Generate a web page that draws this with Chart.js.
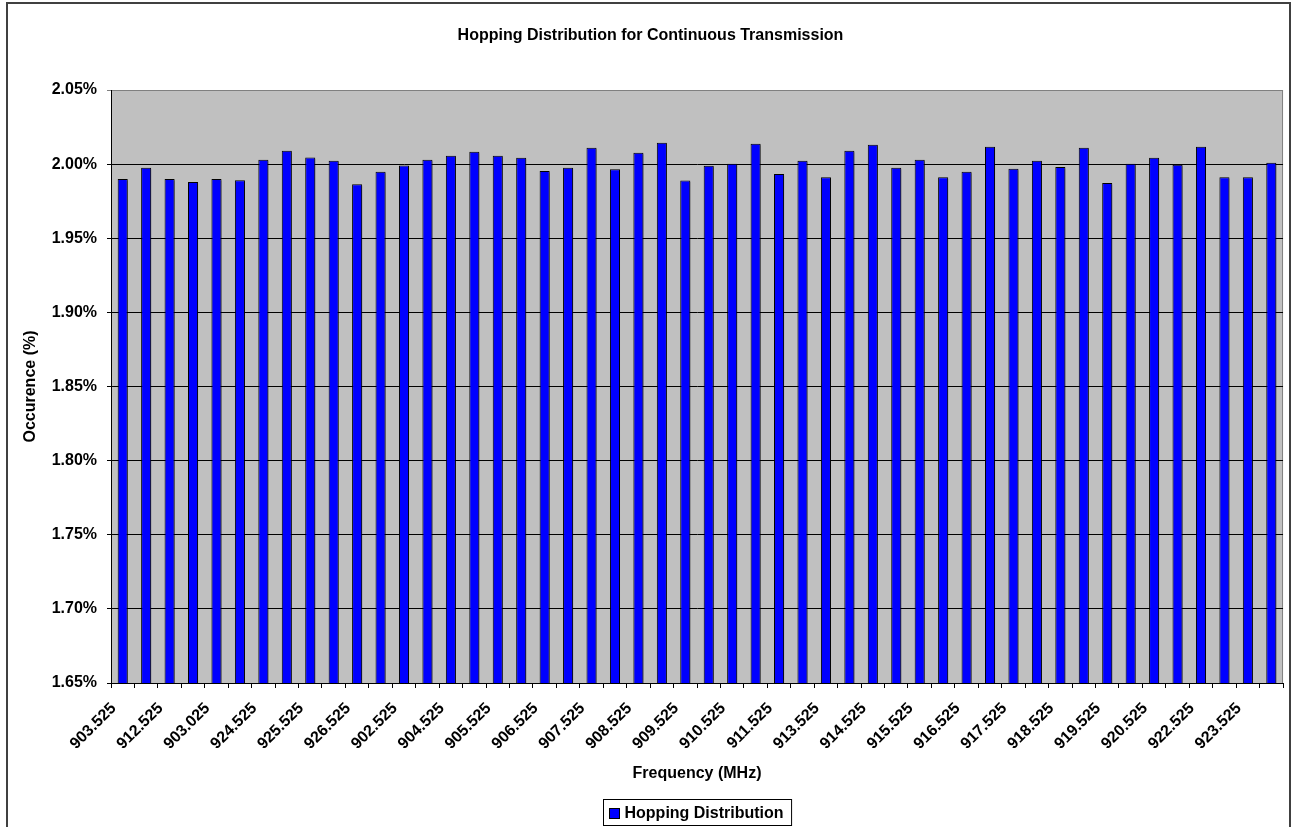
<!DOCTYPE html>
<html>
<head>
<meta charset="utf-8">
<title>Hopping Distribution</title>
<script src="https://cdn.jsdelivr.net/npm/chart.js@4.4.1/dist/chart.umd.min.js"></script>
<style>
    body { margin: 0; background: #fff; }
    canvas { display: block; }
</style>
</head>
<body>
<canvas id="myChart" width="1296" height="827"></canvas>
<script>
const frecuencias = [
    '903.525', '912.025', '912.525', '921.025', '903.025', '924.025', '924.525', '925.025', '925.525', '926.025',
    '926.525', '921.525', '902.525', '904.025', '904.525', '905.025', '905.525', '906.025', '906.525', '907.025',
    '907.525', '908.025', '908.525', '909.025', '909.525', '910.025', '910.525', '911.025', '911.525', '913.025',
    '913.525', '914.025', '914.525', '915.025', '915.525', '916.025', '916.525', '917.025', '917.525', '918.025',
    '918.525', '919.025', '919.525', '920.025', '920.525', '922.025', '922.525', '923.025', '923.525', '927.025'
];

// ocurrencia en %
const ocurrencia = [
    1.9900, 1.9976, 1.9900, 1.9879, 1.9900, 1.9892, 2.0030, 2.0090, 2.0045, 2.0023,
    1.9865, 1.9949, 1.9991, 2.0030, 2.0056, 2.0083, 2.0056, 2.0043, 1.9953, 1.9975,
    2.0110, 1.9966, 2.0076, 2.0144, 1.9890, 1.9989, 2.0002, 2.0137, 1.9933, 2.0022,
    1.9912, 2.0090, 2.0130, 1.9975, 2.0029, 1.9912, 1.9948, 2.0117, 1.9969, 2.0022,
    1.9980, 2.0110, 1.9872, 2.0002, 2.0043, 1.9996, 2.0117, 1.9912, 1.9912, 2.0009
];

const yMin = 1.65;
const yMax = 2.05;
const yPaso = 0.05;

const fuente = 'Arial, "Liberation Sans", sans-serif';
Chart.defaults.font.family = fuente;
Chart.defaults.font.size = 16;
Chart.defaults.font.weight = 'bold';
Chart.defaults.color = '#000';

const fondoPlugin = {
    id: 'fondo',
    beforeDraw(chart) {
        const ctx = chart.ctx;
        const area = chart.chartArea;
        ctx.save();
        ctx.fillStyle = '#fff';
        ctx.fillRect(0, 0, chart.width, chart.height);
        ctx.strokeStyle = '#404040';
        ctx.lineWidth = 2;
        ctx.strokeRect(7, 3, chart.width - 13, chart.height + 10);
        ctx.fillStyle = '#c0c0c0';
        ctx.fillRect(area.left, area.top, area.right - area.left, area.bottom - area.top);
        ctx.strokeStyle = '#808080';
        ctx.lineWidth = 1;
        ctx.strokeRect(area.left + 0.5, area.top + 0.5, area.right - area.left - 1, area.bottom - area.top);
        ctx.restore();
    },
    beforeDatasetsDraw(chart) {
        const ctx = chart.ctx;
        ctx.save();
        ctx.shadowColor = 'rgba(0, 0, 0, 0.35)';
        ctx.shadowOffsetX = 1.5;
        ctx.shadowOffsetY = 1.5;
    },
    afterDatasetsDraw(chart) {
        chart.ctx.restore();
    }
};

const leyendaPlugin = {
    id: 'leyenda',
    afterDraw(chart) {
        const ctx = chart.ctx;
        const area = chart.chartArea;
        const texto = chart.data.datasets[0].label;
        ctx.save();
        ctx.font = 'bold 16px ' + fuente;
        const anchoTexto = ctx.measureText(texto).width;
        const ancho = 6 + 10 + 5 + anchoTexto + 8;
        const alto = 26;
        const x = Math.round((area.left + area.right) / 2 - ancho / 2) + 0.5;
        const y = chart.height - 28 + 0.5;
        ctx.fillStyle = '#fff';
        ctx.fillRect(x, y, ancho, alto);
        ctx.strokeStyle = '#000';
        ctx.lineWidth = 1;
        ctx.strokeRect(x, y, ancho, alto);
        ctx.fillStyle = chart.data.datasets[0].backgroundColor;
        ctx.fillRect(x + 6, y + 9, 10, 10);
        ctx.strokeRect(x + 6, y + 9, 10, 10);
        ctx.fillStyle = '#000';
        ctx.textBaseline = 'middle';
        ctx.fillText(texto, x + 21, y + alto / 2 + 1);
        ctx.restore();
    }
};

const ctx = document.getElementById('myChart').getContext('2d');

const chart = new Chart(ctx, {
    type: 'bar',
    data: {
        labels: frecuencias,
        datasets: [{
            label: 'Hopping Distribution',
            data: ocurrencia,
            backgroundColor: '#0000ff',
            borderColor: '#000',
            borderWidth: 1,
            categoryPercentage: 1,
            barPercentage: 0.43
        }]
    },
    options: {
        responsive: false,
        animation: false,
        layout: {
            padding: { left: 16, right: 11, top: 0, bottom: 0 }
        },
        scales: {
            x: {
                offset: true,
                afterFit: function(scale) { scale.height = 144; },
                border: { color: '#000', width: 1 },
                grid: {
                    offset: true,
                    drawOnChartArea: false,
                    drawTicks: true,
                    tickLength: 5,
                    color: '#000'
                },
                ticks: {
                    autoSkip: false,
                    maxRotation: 45,
                    minRotation: 45,
                    padding: 11,
                    labelOffset: -9,
                    font: { size: 16, weight: 'bold' },
                    callback: function(value, index) {
                        return index % 2 === 0 ? this.getLabelForValue(value) : '';
                    }
                },
                title: {
                    display: true,
                    text: 'Frequency (MHz)',
                    font: { size: 16, weight: 'bold' },
                    padding: { top: 0, bottom: 44 }
                }
            },
            y: {
                min: yMin,
                max: yMax,
                afterFit: function(scale) { scale.width = 95; },
                border: { color: '#000', width: 1 },
                grid: {
                    tickLength: 4,
                    color: function(c) {
                        return c.tick && Math.abs(c.tick.value - yMax) < 1e-6 ? '#808080' : '#000';
                    }
                },
                ticks: {
                    stepSize: yPaso,
                    padding: 10,
                    font: { size: 16, weight: 'bold' },
                    callback: function(v) { return v.toFixed(2) + '%'; }
                },
                title: {
                    display: true,
                    text: 'Occurence (%)',
                    font: { size: 16, weight: 'bold' },
                    padding: { top: 5, bottom: 0 }
                }
            }
        },
        plugins: {
            legend: { display: false },
            tooltip: { enabled: false },
            title: {
                display: true,
                text: 'Hopping Distribution for Continuous Transmission',
                font: { size: 16, weight: 'bold' },
                color: '#000',
                padding: { top: 26, bottom: 44.8 }
            }
        }
    },
    plugins: [fondoPlugin, leyendaPlugin]
});
</script>
</body>
</html>
